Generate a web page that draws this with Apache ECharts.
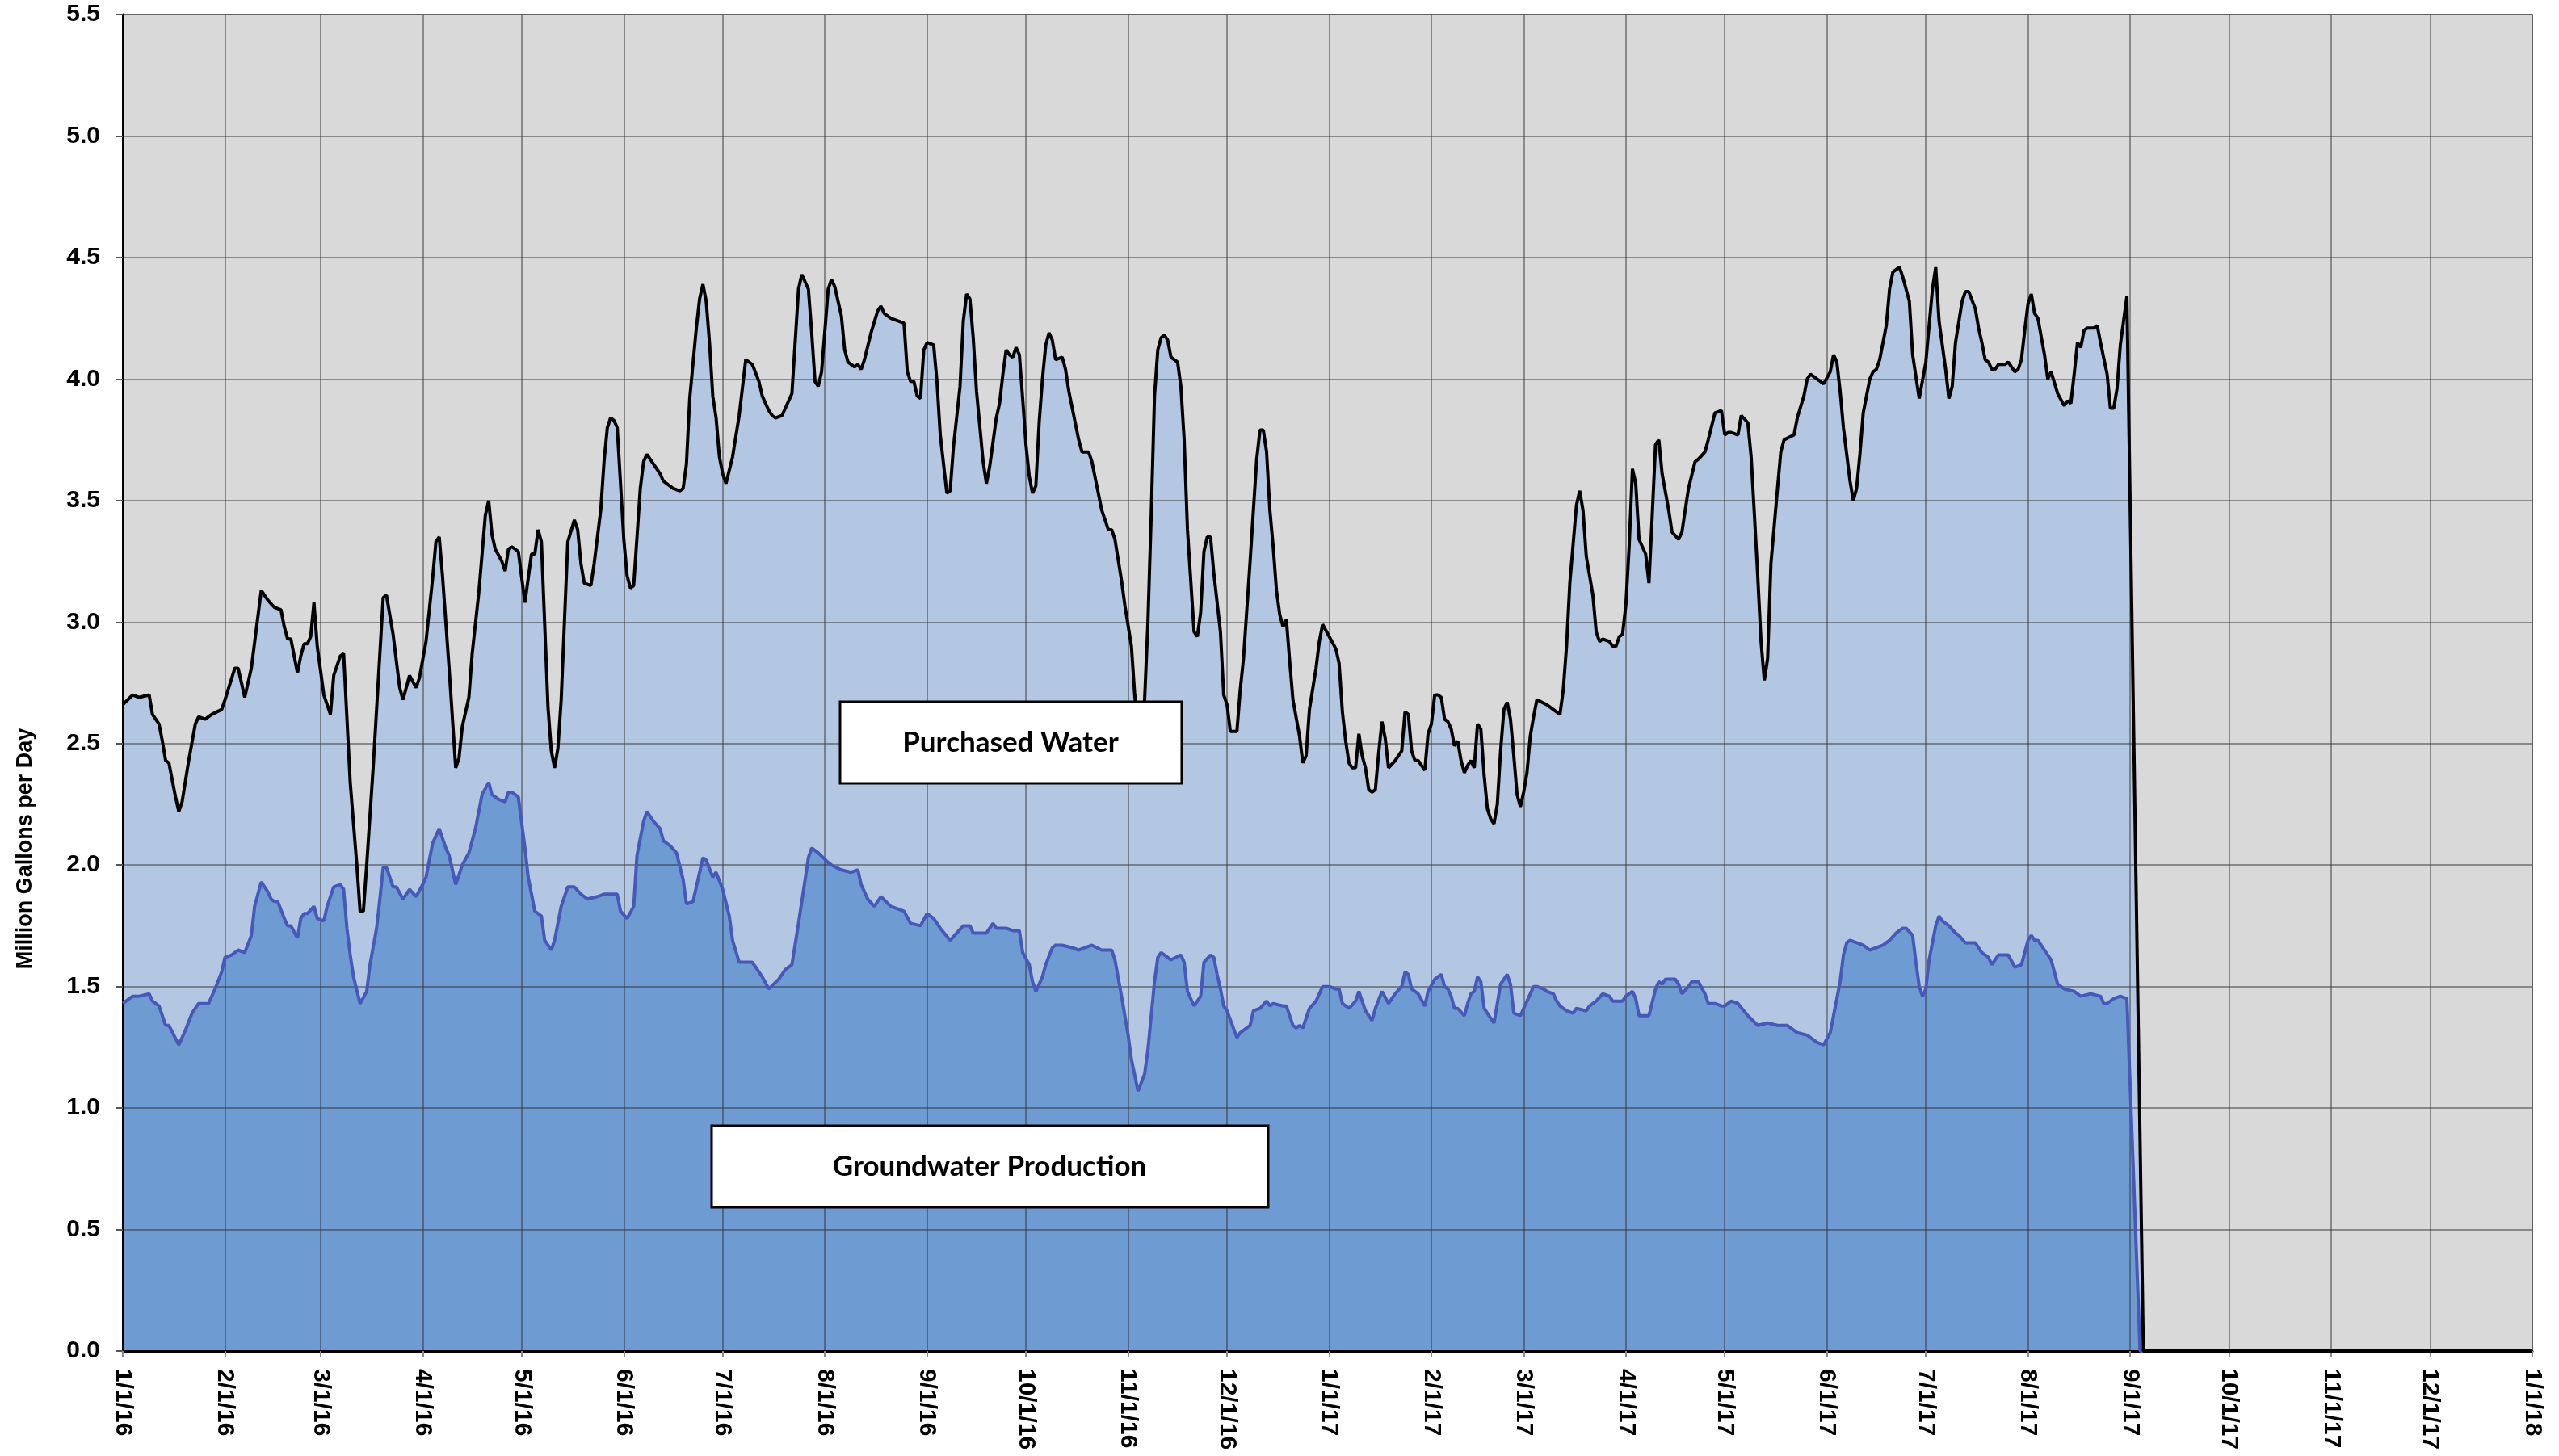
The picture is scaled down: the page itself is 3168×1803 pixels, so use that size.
<!DOCTYPE html>
<html>
<head>
<meta charset="utf-8">
<title>Water Supply</title>
<script src="https://cdn.jsdelivr.net/npm/echarts@6/dist/echarts.min.js"></script>
<style>
  html, body { margin: 0; padding: 0; background: #fff; }
  #chart { width: 3168px; height: 1803px; }
</style>
</head>
<body>
<div id="chart"></div>
<script>
// month ticks: day offset from 1/1/16 and label
const monthDays = [0, 31, 60, 91, 121, 152, 182, 213, 244, 274, 305, 335,
  366, 397, 425, 456, 486, 517, 547, 578, 609, 639, 670, 700, 731];
const monthLabels = ['1/1/16', '2/1/16', '3/1/16', '4/1/16', '5/1/16', '6/1/16', '7/1/16', '8/1/16',
  '9/1/16', '10/1/16', '11/1/16', '12/1/16', '1/1/17', '2/1/17', '3/1/17', '4/1/17', '5/1/17',
  '6/1/17', '7/1/17', '8/1/17', '9/1/17', '10/1/17', '11/1/17', '12/1/17', '1/1/18'];

// total production (groundwater + purchased), MGD
const totalDays = [0, 3, 5, 8, 9, 11, 12, 13, 14, 16, 17, 18, 20, 22, 23, 25, 27, 30, 31, 34, 35, 37, 39,
  42, 44, 46, 48, 49, 50, 51, 53, 54, 55, 56, 57, 58, 59, 61, 63, 64, 66, 67, 69, 71, 72, 73, 74, 76, 79,
  80, 82, 83, 84, 85, 87, 89, 90, 92, 94, 95, 96, 97, 99, 101, 102, 103, 105, 106, 108, 110, 111, 112,
  113, 115, 116, 117, 118, 120, 122, 124, 125, 126, 127, 129, 130, 131, 132, 133, 135, 137, 138, 139,
  140, 142, 143, 145, 146, 147, 148, 149, 150, 152, 153, 154, 155, 157, 158, 159, 161, 163, 164, 167,
  169, 170, 171, 172, 174, 175, 176, 177, 178, 179, 180, 181, 182, 183, 185, 187, 189, 190, 191, 193,
  194, 196, 197, 198, 200, 201, 203, 205, 206, 208, 209, 210, 211, 212, 214, 215, 216, 218, 219, 220,
  222, 223, 224, 225, 227, 229, 230, 231, 233, 237, 238, 239, 240, 241, 242, 243, 244, 246, 247, 248,
  250, 251, 252, 254, 255, 256, 257, 258, 259, 261, 262, 263, 265, 266, 267, 268, 269, 270, 271, 272,
  273, 274, 275, 276, 277, 278, 279, 280, 281, 282, 283, 285, 286, 287, 290, 291, 293, 294, 297, 299,
  300, 301, 303, 304, 306, 307, 308, 310, 311, 312, 313, 314, 315, 316, 317, 318, 320, 321, 322, 323,
  324, 325, 326, 327, 328, 329, 330, 331, 333, 334, 335, 336, 338, 339, 340, 342, 344, 345, 346, 347,
  348, 349, 350, 351, 352, 353, 354, 355, 357, 358, 359, 360, 362, 363, 364, 366, 368, 369, 370, 371,
  372, 373, 374, 375, 376, 377, 378, 379, 380, 381, 382, 383, 384, 386, 387, 388, 389, 390, 391, 392,
  393, 395, 396, 397, 398, 399, 400, 401, 402, 403, 404, 405, 406, 407, 408, 409, 410, 411, 412, 413,
  414, 415, 416, 417, 418, 419, 420, 421, 422, 423, 424, 425, 426, 427, 428, 429, 432, 434, 436, 437,
  438, 439, 441, 442, 443, 444, 446, 447, 448, 449, 451, 452, 453, 454, 455, 456, 457, 458, 459, 460,
  461, 462, 463, 464, 465, 466, 467, 469, 470, 472, 473, 475, 477, 478, 480, 481, 483, 485, 486, 487,
  488, 490, 491, 493, 494, 495, 496, 497, 498, 499, 500, 502, 503, 504, 507, 508, 510, 511, 512, 514,
  516, 518, 519, 520, 521, 522, 524, 525, 526, 527, 528, 530, 531, 532, 533, 535, 536, 537, 539, 540,
  542, 543, 545, 547, 549, 550, 551, 553, 554, 555, 556, 558, 559, 560, 562, 563, 564, 565, 566, 567,
  568, 569, 571, 572, 574, 575, 576, 577, 578, 579, 580, 581, 583, 584, 585, 587, 589, 590, 591, 592,
  593, 594, 595, 596, 598, 599, 600, 602, 603, 604, 605, 606, 607, 608, 613, 731];
const totalValues = [2.66, 2.70, 2.69, 2.70, 2.62, 2.58, 2.51, 2.43, 2.42, 2.28, 2.22, 2.26, 2.43, 2.58,
  2.61, 2.60, 2.62, 2.64, 2.68, 2.81, 2.81, 2.69, 2.81, 3.13, 3.09, 3.06, 3.05, 2.98, 2.93, 2.93, 2.79,
  2.86, 2.91, 2.91, 2.94, 3.08, 2.90, 2.70, 2.62, 2.78, 2.86, 2.87, 2.34, 2.00, 1.81, 1.81, 2.00, 2.41,
  3.10, 3.11, 2.95, 2.84, 2.73, 2.68, 2.78, 2.73, 2.77, 2.92, 3.18, 3.33, 3.35, 3.19, 2.81, 2.40, 2.44,
  2.57, 2.69, 2.87, 3.12, 3.44, 3.50, 3.36, 3.30, 3.25, 3.21, 3.30, 3.31, 3.29, 3.08, 3.28, 3.28, 3.38,
  3.33, 2.65, 2.47, 2.40, 2.48, 2.68, 3.33, 3.42, 3.38, 3.24, 3.16, 3.15, 3.24, 3.46, 3.66, 3.80, 3.84,
  3.83, 3.80, 3.34, 3.19, 3.14, 3.15, 3.55, 3.66, 3.69, 3.65, 3.61, 3.58, 3.55, 3.54, 3.55, 3.65, 3.92,
  4.21, 4.33, 4.39, 4.32, 4.15, 3.93, 3.84, 3.68, 3.61, 3.57, 3.68, 3.85, 4.08, 4.07, 4.06, 3.99, 3.93,
  3.87, 3.85, 3.84, 3.85, 3.88, 3.94, 4.37, 4.43, 4.37, 4.19, 3.99, 3.97, 4.03, 4.37, 4.41, 4.38, 4.26,
  4.12, 4.07, 4.05, 4.06, 4.04, 4.08, 4.19, 4.28, 4.30, 4.27, 4.25, 4.23, 4.03, 3.99, 3.99, 3.93, 3.92,
  4.12, 4.15, 4.14, 3.99, 3.77, 3.53, 3.54, 3.72, 3.97, 4.24, 4.35, 4.33, 4.17, 3.95, 3.66, 3.57, 3.64,
  3.84, 3.90, 4.02, 4.12, 4.10, 4.09, 4.13, 4.10, 3.92, 3.73, 3.60, 3.53, 3.56, 3.82, 4.00, 4.14, 4.19,
  4.16, 4.08, 4.09, 4.04, 3.95, 3.75, 3.70, 3.70, 3.66, 3.46, 3.38, 3.38, 3.34, 3.17, 3.07, 2.90, 2.70,
  2.55, 2.68, 3.00, 3.44, 3.93, 4.12, 4.17, 4.18, 4.16, 4.09, 4.07, 3.97, 3.75, 3.38, 3.17, 2.96, 2.94,
  3.04, 3.29, 3.35, 3.35, 3.20, 2.96, 2.70, 2.66, 2.55, 2.55, 2.72, 2.85, 3.25, 3.67, 3.79, 3.79, 3.70,
  3.46, 3.31, 3.13, 3.03, 2.98, 3.01, 2.84, 2.68, 2.53, 2.42, 2.45, 2.64, 2.81, 2.92, 2.99, 2.94, 2.89,
  2.83, 2.63, 2.51, 2.42, 2.40, 2.40, 2.54, 2.45, 2.40, 2.31, 2.30, 2.31, 2.46, 2.59, 2.52, 2.40, 2.43,
  2.45, 2.47, 2.63, 2.62, 2.47, 2.43, 2.43, 2.39, 2.54, 2.58, 2.70, 2.70, 2.69, 2.60, 2.59, 2.56, 2.49,
  2.51, 2.43, 2.38, 2.41, 2.43, 2.40, 2.58, 2.56, 2.37, 2.23, 2.19, 2.17, 2.25, 2.47, 2.64, 2.67, 2.60,
  2.45, 2.29, 2.24, 2.30, 2.38, 2.53, 2.61, 2.68, 2.66, 2.64, 2.62, 2.72, 2.90, 3.16, 3.48, 3.54, 3.46,
  3.27, 3.11, 2.96, 2.92, 2.93, 2.92, 2.90, 2.90, 2.94, 2.95, 3.07, 3.31, 3.63, 3.57, 3.34, 3.31, 3.28,
  3.16, 3.44, 3.73, 3.75, 3.61, 3.46, 3.37, 3.34, 3.37, 3.55, 3.66, 3.67, 3.70, 3.75, 3.86, 3.87, 3.77,
  3.78, 3.78, 3.77, 3.85, 3.82, 3.68, 3.44, 3.19, 2.92, 2.76, 2.85, 3.24, 3.55, 3.70, 3.75, 3.77, 3.84,
  3.93, 4.00, 4.02, 4.00, 3.98, 4.03, 4.10, 4.07, 3.95, 3.80, 3.58, 3.50, 3.55, 3.69, 3.86, 4.00, 4.03,
  4.04, 4.08, 4.22, 4.37, 4.44, 4.46, 4.42, 4.32, 4.10, 3.92, 4.07, 4.37, 4.46, 4.24, 4.04, 3.92, 3.97,
  4.15, 4.32, 4.36, 4.36, 4.29, 4.21, 4.15, 4.08, 4.07, 4.04, 4.04, 4.06, 4.06, 4.07, 4.03, 4.04, 4.08,
  4.20, 4.31, 4.35, 4.27, 4.25, 4.10, 4.00, 4.03, 3.94, 3.89, 3.91, 3.90, 4.02, 4.15, 4.13, 4.20, 4.21,
  4.21, 4.22, 4.15, 4.02, 3.88, 3.88, 3.96, 4.14, 4.24, 4.34, 0, 0];

// groundwater production, MGD
const groundDays = [0, 3, 5, 8, 9, 11, 12, 13, 14, 17, 19, 21, 23, 26, 28, 30, 31, 33, 35, 37, 39, 40,
  42, 44, 45, 46, 47, 49, 50, 51, 53, 54, 55, 56, 58, 59, 61, 62, 64, 66, 67, 68, 69, 70, 72, 74, 75, 77,
  78, 79, 80, 82, 83, 85, 87, 89, 91, 92, 94, 96, 98, 99, 101, 103, 105, 107, 109, 111, 112, 114, 116,
  117, 118, 120, 122, 123, 125, 127, 128, 130, 131, 133, 135, 137, 139, 141, 144, 146, 150, 151, 153,
  155, 156, 158, 159, 161, 163, 164, 166, 168, 170, 171, 173, 174, 176, 177, 179, 180, 182, 184, 185,
  187, 191, 194, 196, 199, 201, 203, 205, 207, 208, 209, 211, 214, 215, 218, 221, 223, 224, 226, 228,
  230, 233, 237, 239, 242, 244, 246, 248, 251, 253, 255, 257, 258, 260, 262, 264, 265, 268, 270, 272,
  273, 275, 276, 277, 279, 280, 282, 283, 285, 288, 290, 292, 294, 297, 299, 300, 301, 303, 305, 306,
  308, 310, 311, 313, 314, 315, 317, 318, 321, 322, 323, 325, 327, 328, 330, 331, 332, 333, 334, 335,
  338, 339, 340, 342, 343, 345, 347, 348, 349, 352, 353, 355, 356, 357, 358, 360, 362, 364, 366, 368,
  369, 370, 372, 374, 375, 377, 379, 380, 382, 384, 386, 388, 389, 390, 391, 393, 395, 396, 398, 400,
  401, 402, 403, 404, 405, 407, 408, 409, 410, 411, 412, 413, 415, 416, 417, 418, 420, 421, 422, 424,
  425, 427, 428, 429, 431, 432, 434, 435, 436, 438, 440, 441, 444, 445, 447, 449, 451, 452, 455, 456,
  458, 459, 460, 463, 465, 466, 467, 468, 471, 472, 473, 475, 476, 478, 480, 481, 483, 485, 486, 488,
  490, 493, 496, 499, 502, 505, 508, 511, 514, 516, 518, 519, 521, 522, 523, 524, 526, 528, 530, 534,
  536, 538, 540, 541, 543, 544, 545, 546, 547, 548, 550, 551, 552, 554, 556, 557, 559, 562, 564, 566,
  567, 569, 570, 572, 574, 576, 578, 579, 580, 581, 583, 585, 587, 589, 592, 594, 597, 600, 601, 602,
  604, 606, 608, 612, 731];
const groundValues = [1.43, 1.46, 1.46, 1.47, 1.44, 1.42, 1.38, 1.34, 1.34, 1.26, 1.32, 1.39, 1.43,
  1.43, 1.49, 1.56, 1.62, 1.63, 1.65, 1.64, 1.71, 1.83, 1.93, 1.89, 1.86, 1.85, 1.85, 1.78, 1.75, 1.75,
  1.70, 1.78, 1.80, 1.80, 1.83, 1.78, 1.77, 1.83, 1.91, 1.92, 1.90, 1.74, 1.63, 1.54, 1.43, 1.48, 1.59,
  1.74, 1.86, 1.99, 1.99, 1.91, 1.91, 1.86, 1.90, 1.87, 1.92, 1.95, 2.09, 2.15, 2.07, 2.04, 1.92, 2.00,
  2.05, 2.15, 2.29, 2.34, 2.29, 2.27, 2.26, 2.30, 2.30, 2.28, 2.07, 1.95, 1.81, 1.79, 1.69, 1.65, 1.69,
  1.83, 1.91, 1.91, 1.88, 1.86, 1.87, 1.88, 1.88, 1.81, 1.78, 1.83, 2.04, 2.18, 2.22, 2.18, 2.15, 2.10,
  2.08, 2.05, 1.94, 1.84, 1.85, 1.91, 2.03, 2.02, 1.95, 1.97, 1.90, 1.79, 1.69, 1.60, 1.60, 1.54, 1.49,
  1.53, 1.57, 1.59, 1.76, 1.94, 2.03, 2.07, 2.05, 2.01, 2.00, 1.98, 1.97, 1.98, 1.92, 1.86, 1.83, 1.87,
  1.83, 1.81, 1.76, 1.75, 1.80, 1.78, 1.74, 1.69, 1.72, 1.75, 1.75, 1.72, 1.72, 1.72, 1.76, 1.74, 1.74,
  1.73, 1.73, 1.64, 1.59, 1.52, 1.48, 1.54, 1.59, 1.66, 1.67, 1.67, 1.66, 1.65, 1.66, 1.67, 1.65, 1.65,
  1.65, 1.61, 1.46, 1.30, 1.20, 1.07, 1.14, 1.24, 1.52, 1.62, 1.64, 1.62, 1.61, 1.63, 1.60, 1.48, 1.42,
  1.46, 1.60, 1.63, 1.62, 1.55, 1.49, 1.42, 1.40, 1.29, 1.31, 1.32, 1.34, 1.40, 1.41, 1.44, 1.42, 1.43,
  1.42, 1.42, 1.34, 1.33, 1.34, 1.33, 1.41, 1.44, 1.50, 1.50, 1.49, 1.49, 1.43, 1.41, 1.44, 1.48, 1.40,
  1.36, 1.41, 1.48, 1.43, 1.47, 1.50, 1.56, 1.55, 1.49, 1.47, 1.42, 1.48, 1.53, 1.55, 1.50, 1.49, 1.46,
  1.41, 1.41, 1.38, 1.43, 1.47, 1.48, 1.54, 1.52, 1.41, 1.37, 1.35, 1.43, 1.51, 1.55, 1.51, 1.39, 1.38,
  1.41, 1.47, 1.50, 1.50, 1.49, 1.48, 1.47, 1.44, 1.42, 1.40, 1.39, 1.41, 1.40, 1.42, 1.44, 1.47, 1.46,
  1.44, 1.44, 1.46, 1.48, 1.45, 1.38, 1.38, 1.49, 1.52, 1.51, 1.53, 1.53, 1.51, 1.47, 1.50, 1.52, 1.52,
  1.47, 1.43, 1.43, 1.42, 1.42, 1.44, 1.43, 1.38, 1.34, 1.35, 1.34, 1.34, 1.31, 1.30, 1.27, 1.26, 1.31,
  1.38, 1.52, 1.63, 1.68, 1.69, 1.68, 1.67, 1.65, 1.67, 1.69, 1.72, 1.74, 1.74, 1.71, 1.60, 1.50, 1.46,
  1.49, 1.61, 1.75, 1.79, 1.77, 1.75, 1.72, 1.71, 1.68, 1.68, 1.64, 1.62, 1.59, 1.63, 1.63, 1.63, 1.58,
  1.59, 1.69, 1.71, 1.69, 1.69, 1.65, 1.61, 1.51, 1.49, 1.48, 1.46, 1.47, 1.46, 1.43, 1.43, 1.45, 1.46,
  1.45, 0, 0];

const yTicks = { min: 0, max: 5.5, interval: 0.5 };

function toPairs(days, values) {
  return days.map(function (d, i) { return [d, values[i]]; });
}

const totalData = toPairs(totalDays, totalValues);
const groundData = toPairs(groundDays, groundValues);

const labelFont = 'Liberation Sans, Arial, sans-serif';
const boxFont = 'Lato, Open Sans, sans-serif';
const gridColor = 'rgba(45,45,45,0.62)';

const chart = echarts.init(document.getElementById('chart'), null, { renderer: 'canvas' });

chart.setOption({
  animation: false,
  backgroundColor: '#ffffff',
  grid: {
    left: 152,
    right: 33,
    top: 18,
    bottom: 130,
    show: true,
    backgroundColor: '#d9d9d9',
    borderColor: '#8c8c8c',
    borderWidth: 2
  },
  xAxis: {
    type: 'value',
    min: 0,
    max: 731,
    z: 2,
    axisLine: { lineStyle: { color: '#000', width: 3 } },
    axisTick: {
      customValues: monthDays,
      length: 8,
      lineStyle: { color: '#8c8c8c', width: 2 }
    },
    axisLabel: {
      customValues: monthDays,
      rotate: -90,
      margin: 22,
      color: '#000',
      fontFamily: labelFont,
      fontWeight: 'bold',
      fontSize: 30,
      formatter: function (v) {
        const i = monthDays.indexOf(Math.round(v));
        return i >= 0 ? monthLabels[i] : '';
      }
    },
    splitLine: { show: true, lineStyle: { color: gridColor, width: 1.5 } }
  },
  yAxis: {
    type: 'value',
    min: yTicks.min,
    max: yTicks.max,
    interval: yTicks.interval,
    z: 2,
    axisLine: { show: true, lineStyle: { color: '#000', width: 3 } },
    axisTick: { show: true, length: 9, lineStyle: { color: '#555', width: 2 } },
    axisLabel: {
      margin: 28,
      color: '#000',
      fontFamily: labelFont,
      fontWeight: 'bold',
      fontSize: 30,
      formatter: function (v) { return v.toFixed(1); }
    },
    splitLine: { show: true, lineStyle: { color: gridColor, width: 1.5 } }
  },
  series: [
    { // total fill (purchased water shows above groundwater)
      type: 'line', data: totalData, showSymbol: false, silent: true, z: 1,
      lineStyle: { opacity: 0 },
      areaStyle: { color: '#b4c7e2', opacity: 1 }
    },
    { // groundwater fill
      type: 'line', data: groundData, showSymbol: false, silent: true, z: 1,
      lineStyle: { opacity: 0 },
      areaStyle: { color: '#6e9bd2', opacity: 1 }
    },
    {
      name: 'Groundwater Production',
      type: 'line', data: groundData, showSymbol: false, z: 3,
      lineStyle: { color: '#4658b8', width: 4 }
    },
    {
      name: 'Total',
      type: 'line', data: totalData, showSymbol: false, z: 4,
      lineStyle: { color: '#000', width: 4 }
    }
  ],
  graphic: [
    { // y axis title, sits low beside the axis
      type: 'text', z: 11, x: 32, y: 1051, rotation: Math.PI / 2,
      style: {
        text: 'Million Gallons per Day', fill: '#000', align: 'center', verticalAlign: 'middle',
        font: 'bold 27px ' + labelFont
      }
    },
    {
      type: 'rect', z: 10,
      shape: { x: 1040, y: 869, width: 423, height: 101 },
      style: { fill: '#fff', stroke: '#000', lineWidth: 3 }
    },
    {
      type: 'text', z: 11, x: 1251, y: 920,
      style: {
        text: 'Purchased Water', fill: '#000', align: 'center', verticalAlign: 'middle',
        font: 'bold 35px ' + boxFont
      }
    },
    {
      type: 'rect', z: 10,
      shape: { x: 881, y: 1394, width: 689, height: 101 },
      style: { fill: '#fff', stroke: '#000', lineWidth: 3 }
    },
    {
      type: 'text', z: 11, x: 1225, y: 1445,
      style: {
        text: 'Groundwater Production', fill: '#000', align: 'center', verticalAlign: 'middle',
        font: 'bold 35px ' + boxFont
      }
    }
  ]
});
</script>
</body>
</html>
